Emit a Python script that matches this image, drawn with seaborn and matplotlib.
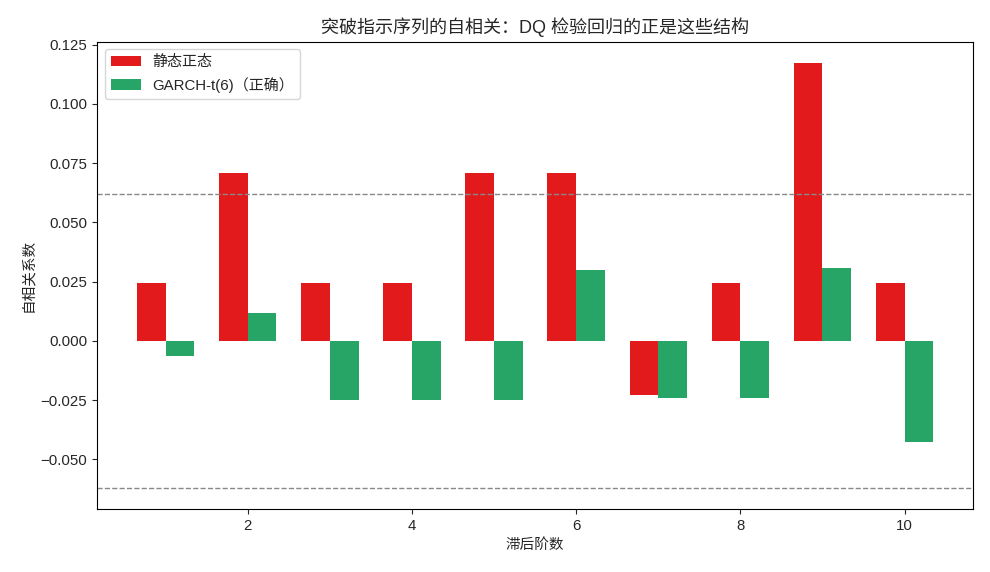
import numpy as np
import pandas as pd
import matplotlib
matplotlib.use("Agg")
import matplotlib.pyplot as plt
import seaborn as sns

lags = [1, 2, 3, 4, 5, 6, 7, 8, 9, 10]
acf_static = [0.0242, 0.0707, 0.0242, 0.0242, 0.0707, 0.0707, -0.0228, 0.0242, 0.1172, 0.0242]
acf_garch = [-0.0064, 0.0118, -0.0250, -0.0250, -0.0250, 0.0297, -0.0243, -0.0243, 0.0308, -0.0428]
series_names = ["静态正态", "GARCH-t(6)（正确）"]
band = 0.062

df = pd.DataFrame({
    "lag": lags * 2,
    "acf": acf_static + acf_garch,
    "model": [series_names[0]] * len(lags) + [series_names[1]] * len(lags),
})

sns.set_style("white")
plt.rcParams["font.family"] = ["Liberation Sans", "Noto Sans CJK SC", "DejaVu Sans"]
plt.rcParams["axes.unicode_minus"] = True

fig, ax = plt.subplots(figsize=(9.9, 5.72), dpi=100)
sns.barplot(data=df, x="lag", y="acf", hue="model", native_scale=True,
            palette=["#e31a1c", "#27a567"], width=0.7, gap=0,
            saturation=1, errorbar=None, linewidth=0, edgecolor="none", ax=ax)

ax.axhline(band, color="#888888", linestyle="--", linewidth=1)
ax.axhline(-band, color="#888888", linestyle="--", linewidth=1)

ax.set_xticks([2, 4, 6, 8, 10])
ax.set_xlim(0.165, 10.835)
ax.set_xlabel("滞后阶数", fontsize=10.5)
ax.set_ylabel("自相关系数", fontsize=10.5)
ax.set_title("突破指示序列的自相关：DQ 检验回归的正是这些结构", fontsize=13)
ax.tick_params(axis="both", which="both", length=3.5, direction="out",
               left=True, bottom=True, labelsize=10.8)
for s in ax.spines.values():
    s.set_visible(True)
    s.set_color("black")
    s.set_linewidth(0.8)
ax.legend(title=None, loc="upper left", fontsize=10.8)

fig.subplots_adjust(left=0.098, right=0.983, top=0.927, bottom=0.110)
fig.savefig("out.png", dpi=100)
